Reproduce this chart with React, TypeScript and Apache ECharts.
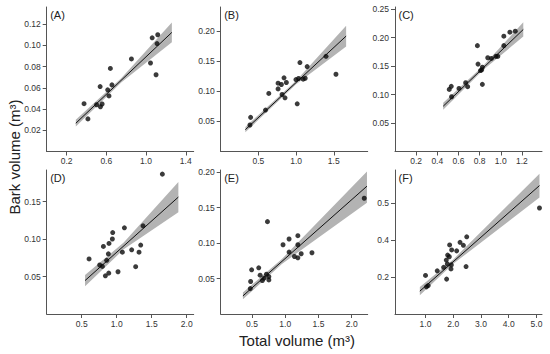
import React, { useEffect, useRef } from "react";
import * as echarts from "echarts";

type P = [number, number];

// ---------- data ----------
const panelLabels = ["(A)", "(B)", "(C)", "(D)", "(E)", "(F)"];

const pointsA: P[] = [
  [0.376, 0.045], [0.415, 0.0307], [0.502, 0.044], [0.538, 0.0611], [0.541, 0.0421],
  [0.558, 0.0447], [0.614, 0.058], [0.627, 0.0523], [0.641, 0.0782], [0.657, 0.0627],
  [0.853, 0.0871], [1.045, 0.0833], [1.062, 0.107], [1.101, 0.0722], [1.111, 0.1016],
  [1.118, 0.1099],
];
const pointsB: P[] = [
  [0.388, 0.044], [0.397, 0.0567], [0.594, 0.0688], [0.638, 0.0964], [0.761, 0.104],
  [0.761, 0.1135], [0.805, 0.1113], [0.814, 0.0947], [0.84, 0.1223], [0.853, 0.0892],
  [0.871, 0.1146], [0.998, 0.1195], [1.015, 0.0792], [1.033, 0.1212], [1.051, 0.1477],
  [1.094, 0.1201], [1.121, 0.1217], [1.147, 0.141], [1.397, 0.1581], [1.529, 0.1283],
];
const pointsC: P[] = [
  [0.513, 0.1092], [0.532, 0.1145], [0.535, 0.0962], [0.605, 0.1109], [0.668, 0.121],
  [0.687, 0.1139], [0.779, 0.1861], [0.785, 0.1536], [0.808, 0.1423], [0.82, 0.1435],
  [0.826, 0.1482], [0.826, 0.118], [0.877, 0.1648], [0.912, 0.1636], [0.953, 0.1672],
  [0.972, 0.1672], [1.029, 0.2027], [1.029, 0.1861], [1.086, 0.2097], [1.137, 0.2115],
];
const pointsD: P[] = [
  [0.605, 0.0734], [0.757, 0.0653], [0.795, 0.0635], [0.81, 0.0901], [0.838, 0.0509],
  [0.857, 0.0716], [0.881, 0.0802], [0.886, 0.0545], [0.89, 0.0941], [0.938, 0.1],
  [0.943, 0.1086], [1.019, 0.0563], [1.081, 0.0824], [1.11, 0.1149], [1.214, 0.0856],
  [1.271, 0.0631], [1.319, 0.0824], [1.343, 0.0919], [1.376, 0.1176], [1.652, 0.1865],
];
const pointsE: P[] = [
  [0.475, 0.0358], [0.48, 0.0458], [0.495, 0.0623], [0.602, 0.0651], [0.623, 0.0547],
  [0.657, 0.0472], [0.683, 0.0505], [0.718, 0.0561], [0.733, 0.1302], [0.754, 0.0528],
  [0.754, 0.0481], [0.967, 0.0976], [1.058, 0.1057], [1.058, 0.0873], [1.139, 0.0811],
  [1.19, 0.1104], [1.19, 0.0976], [1.19, 0.0792], [1.24, 0.0849], [1.402, 0.0863],
  [2.188, 0.1632],
];
const pointsF: P[] = [
  [1.0, 0.209], [1.036, 0.147], [1.097, 0.154], [1.423, 0.234], [1.653, 0.253],
  [1.749, 0.292], [1.761, 0.189], [1.786, 0.271], [1.798, 0.319], [1.858, 0.31],
  [1.87, 0.374], [1.918, 0.244], [1.931, 0.266], [1.943, 0.347], [2.124, 0.342],
  [2.245, 0.388], [2.366, 0.372], [2.462, 0.257], [2.486, 0.418], [5.109, 0.574],
];

// regression lines (start, end)
const lineA: P[] = [[0.293, 0.0266], [1.26, 0.1121]];
const lineB: P[] = [[0.327, 0.0363], [1.664, 0.1917]];
const lineC: P[] = [[0.456, 0.0796], [1.213, 0.2145]];
const lineD: P[] = [[0.548, 0.0446], [1.881, 0.1559]];
const lineE: P[] = [[0.364, 0.0255], [2.229, 0.1802]];
const lineF: P[] = [[0.796, 0.1239], [5.109, 0.6956]];

// confidence bands: x, lower, upper
const bandAX = [0.293, 0.75, 1.26];
const bandALo = [0.0236, 0.065, 0.1029];
const bandAHi = [0.0298, 0.069, 0.1213];
const bandBX = [0.327, 1.0, 1.664];
const bandBLo = [0.0319, 0.1115, 0.1746];
const bandBHi = [0.0407, 0.1175, 0.2088];
const bandCX = [0.456, 0.83, 1.213];
const bandCLo = [0.0736, 0.1427, 0.202];
const bandCHi = [0.0856, 0.1497, 0.227];
const bandDX = [0.548, 1.1, 1.881];
const bandDLo = [0.0371, 0.0862, 0.1358];
const bandDHi = [0.0521, 0.0952, 0.176];
const bandEX = [0.364, 0.95, 2.229];
const bandELo = [0.0208, 0.0706, 0.157];
const bandEHi = [0.0302, 0.0776, 0.201];
const bandFX = [0.796, 2.0, 5.109];
const bandFLo = [0.1019, 0.2716, 0.6311];
const bandFHi = [0.1459, 0.2956, 0.7601];

// tick positions and labels
const xTicksA = [0.2, 0.6, 1.0, 1.4];
const xTextA = ["0.2", "0.6", "1.0", "1.4"];
const yTicksA = [0.02, 0.04, 0.06, 0.08, 0.1, 0.12];
const yTextA = ["0.02", "0.04", "0.06", "0.08", "0.10", "0.12"];
const xTicksB = [0.5, 1.0, 1.5];
const xTextB = ["0.5", "1.0", "1.5"];
const yTicksB = [0.05, 0.1, 0.15, 0.2];
const yTextB = ["0.05", "0.10", "0.15", "0.20"];
const xTicksC = [0.2, 0.4, 0.6, 0.8, 1.0, 1.2];
const xTextC = ["0.2", "0.4", "0.6", "0.8", "1.0", "1.2"];
const yTicksC = [0.05, 0.1, 0.15, 0.2, 0.25];
const yTextC = ["0.05", "0.10", "0.15", "0.20", "0.25"];
const xTicksD = [0.5, 1.0, 1.5, 2.0];
const xTextD = ["0.5", "1.0", "1.5", "2.0"];
const yTicksD = [0.05, 0.1, 0.15];
const yTextD = ["0.05", "0.10", "0.15"];
const xTicksE = [0.5, 1.0, 1.5, 2.0];
const xTextE = ["0.5", "1.0", "1.5", "2.0"];
const yTicksE = [0.05, 0.1, 0.15, 0.2];
const yTextE = ["0.05", "0.10", "0.15", "0.20"];
const xTicksF = [1, 2, 3, 4, 5];
const xTextF = ["1.0", "2.0", "3.0", "4.0", "5.0"];
const yTicksF = [0.2, 0.4, 0.6];
const yTextF = ["0.2", "0.4", "0.5"];

// axis ranges
const xRangeA = [0, 1.48], yRangeA = [0, 0.136];
const xRangeB = [0, 1.95], yRangeB = [0, 0.24];
const xRangeC = [0, 1.39], yRangeC = [0, 0.254];
const xRangeD = [0, 2.1], yRangeD = [0, 0.192];
const xRangeE = [0.03, 2.24], yRangeE = [0, 0.203];
const xRangeF = [-0.1, 5.2], yRangeF = [0, 0.78];

const xTitle = "Total volume (m³)";
const yTitle = "Bark volume (m³)";

// ---------- layout ----------
const colLeft = [46.7, 220.7, 395];
const rowTop = [7, 170];
const panelW = 147;
const panelH = [144.5, 144];

const FONT = '"Liberation Sans", Arial, Helvetica, sans-serif';
const AXIS_COLOR = "#555";
const TEXT_COLOR = "#333";

interface PanelCfg {
  pts: P[];
  line: P[];
  bx: number[];
  blo: number[];
  bhi: number[];
  xt: number[];
  xs: string[];
  yt: number[];
  ys: string[];
  xr: number[];
  yr: number[];
}

const panels: PanelCfg[] = [
  { pts: pointsA, line: lineA, bx: bandAX, blo: bandALo, bhi: bandAHi, xt: xTicksA, xs: xTextA, yt: yTicksA, ys: yTextA, xr: xRangeA, yr: yRangeA },
  { pts: pointsB, line: lineB, bx: bandBX, blo: bandBLo, bhi: bandBHi, xt: xTicksB, xs: xTextB, yt: yTicksB, ys: yTextB, xr: xRangeB, yr: yRangeB },
  { pts: pointsC, line: lineC, bx: bandCX, blo: bandCLo, bhi: bandCHi, xt: xTicksC, xs: xTextC, yt: yTicksC, ys: yTextC, xr: xRangeC, yr: yRangeC },
  { pts: pointsD, line: lineD, bx: bandDX, blo: bandDLo, bhi: bandDHi, xt: xTicksD, xs: xTextD, yt: yTicksD, ys: yTextD, xr: xRangeD, yr: yRangeD },
  { pts: pointsE, line: lineE, bx: bandEX, blo: bandELo, bhi: bandEHi, xt: xTicksE, xs: xTextE, yt: yTicksE, ys: yTextE, xr: xRangeE, yr: yRangeE },
  { pts: pointsF, line: lineF, bx: bandFX, blo: bandFLo, bhi: bandFHi, xt: xTicksF, xs: xTextF, yt: yTicksF, ys: yTextF, xr: xRangeF, yr: yRangeF },
];

function lookup(vals: number[], texts: string[]) {
  return (v: number) => {
    const i = vals.findIndex((t) => Math.abs(t - v) < 1e-6);
    return i >= 0 ? texts[i] : "";
  };
}

function buildOption() {
  const grid: any[] = [];
  const xAxis: any[] = [];
  const yAxis: any[] = [];
  const series: any[] = [];
  const graphic: any[] = [];

  panels.forEach((p, i) => {
    const col = i % 3;
    const row = Math.floor(i / 3);
    const left = colLeft[col];
    const top = rowTop[row];
    grid.push({ left, top, width: panelW, height: panelH[row], containLabel: false });

    const axisCommon = {
      axisLine: { show: true, onZero: false, lineStyle: { color: AXIS_COLOR, width: 1 } },
      splitLine: { show: false },
    };
    xAxis.push({
      type: "value",
      gridIndex: i,
      min: p.xr[0],
      max: p.xr[1],
      ...axisCommon,
      axisTick: { show: true, customValues: p.xt, length: 4, lineStyle: { color: AXIS_COLOR } },
      axisLabel: {
        show: true,
        customValues: p.xt,
        formatter: lookup(p.xt, p.xs),
        fontSize: 8.5,
        fontFamily: FONT,
        color: TEXT_COLOR,
        margin: 5,
      },
    });
    yAxis.push({
      type: "value",
      gridIndex: i,
      min: p.yr[0],
      max: p.yr[1],
      ...axisCommon,
      axisTick: { show: true, customValues: p.yt, length: 4, lineStyle: { color: AXIS_COLOR } },
      axisLabel: {
        show: true,
        customValues: p.yt,
        formatter: lookup(p.yt, p.ys),
        fontSize: 8.5,
        fontFamily: FONT,
        color: TEXT_COLOR,
        margin: 6,
      },
    });

    const bx = p.bx, blo = p.blo, bhi = p.bhi;
    series.push({
      type: "custom",
      xAxisIndex: i,
      yAxisIndex: i,
      z: 1,
      silent: true,
      data: [[bx[0], blo[0]]],
      renderItem: (_params: any, api: any) => {
        const upper = bx.map((x, k) => api.coord([x, bhi[k]]));
        const lower = bx.map((x, k) => api.coord([x, blo[k]])).reverse();
        return {
          type: "polygon",
          shape: { points: [...upper, ...lower] },
          style: { fill: "#b3b3b3", stroke: "none" },
        };
      },
    });
    series.push({
      type: "line",
      xAxisIndex: i,
      yAxisIndex: i,
      z: 2,
      data: p.line,
      showSymbol: false,
      symbol: "none",
      lineStyle: { color: "#111", width: 1 },
      silent: true,
    });
    series.push({
      type: "scatter",
      xAxisIndex: i,
      yAxisIndex: i,
      z: 3,
      data: p.pts,
      symbol: "circle",
      symbolSize: 5,
      itemStyle: { color: "#0a0a0a" },
      silent: true,
    });

    graphic.push({
      type: "text",
      left: left + 3.5,
      top: top + 2.5,
      style: { text: panelLabels[i], font: `11px ${FONT}`, fill: "#222" },
    });
  });

  graphic.push({
    type: "text",
    x: 14,
    y: 157,
    rotation: Math.PI / 2,
    style: {
      text: yTitle,
      font: `15px ${FONT}`,
      fill: "#222",
      textAlign: "center",
      textVerticalAlign: "middle",
    },
  });
  graphic.push({
    type: "text",
    x: 297,
    y: 340,
    style: {
      text: xTitle,
      font: `15px ${FONT}`,
      fill: "#222",
      textAlign: "center",
      textVerticalAlign: "middle",
    },
  });

  return {
    animation: false,
    backgroundColor: "#ffffff",
    grid,
    xAxis,
    yAxis,
    series,
    graphic,
  };
}

export default function App() {
  const ref = useRef<HTMLDivElement>(null);
  useEffect(() => {
    if (!ref.current) return;
    const chart = echarts.init(ref.current, undefined, { renderer: "svg" });
    chart.setOption(buildOption() as any);
    return () => chart.dispose();
  }, []);
  return (
    <div
      ref={ref}
      style={{ position: "fixed", left: 0, top: 0, width: 550, height: 354, background: "#fff" }}
    />
  );
}
